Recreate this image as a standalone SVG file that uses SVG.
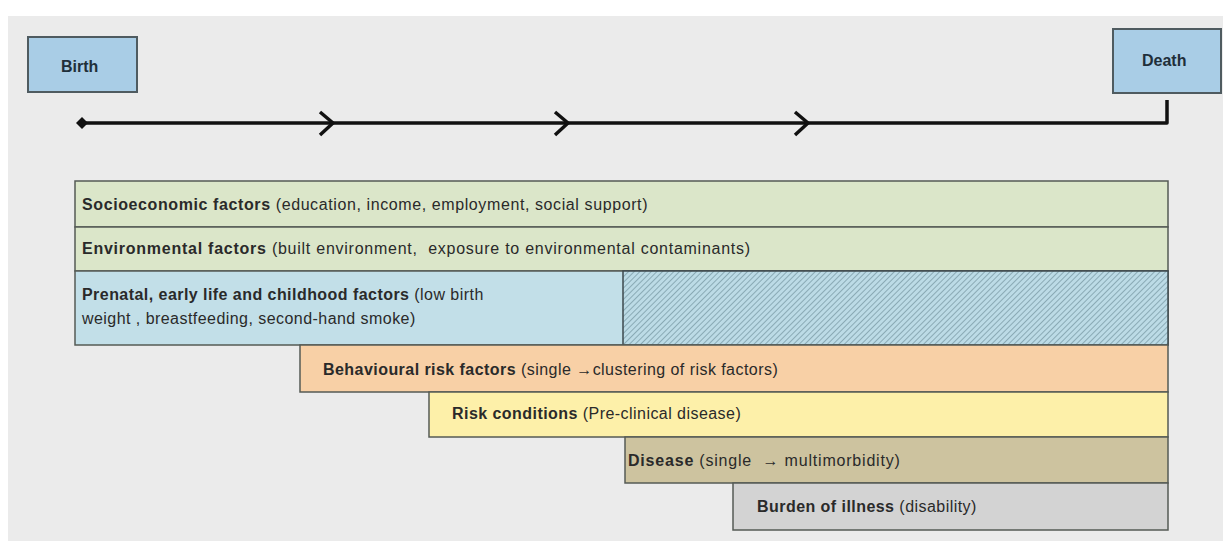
<svg xmlns="http://www.w3.org/2000/svg" width="1223" height="541" viewBox="0 0 1223 541">
<style>
text{font-family:"Liberation Sans",Arial,sans-serif;font-size:16px;letter-spacing:0.45px;fill:#2a2a2a}
.b{font-weight:bold}
.bar{stroke:#555b55;stroke-width:1.5}
.end{fill:#a9cde6;stroke:#4f5b60;stroke-width:2}
.line{fill:none;stroke:#111;stroke-width:3.5;stroke-linejoin:round}
</style>
<defs>
<pattern id="hatch" width="4" height="4" patternUnits="userSpaceOnUse" patternTransform="rotate(45)">
<rect width="4" height="4" fill="#bcdbe6"/>
<line x1="0" y1="0" x2="0" y2="4" stroke="#6f8f9a" stroke-width="1.3"/>
</pattern>
</defs>
<rect x="0" y="0" width="1223" height="541" fill="#ffffff"/>
<rect x="8" y="16" width="1215" height="525" fill="#ebebeb"/>
<g id="connectors">
<path class="line" d="M82 123 H1167 V100"/>
<path d="M82 117 L88 123 L82 129 L76 123 Z" fill="#111"/>
<path class="line" d="M320 112 L333 123 L320 135"/>
<path class="line" d="M555 112 L568 123 L555 135"/>
<path class="line" d="M795 112 L808 123 L795 135"/>
</g>
<g id="birth">
<rect class="end" x="28" y="37" width="109" height="55"/>
<text class="b" x="61" y="72" style="fill:#1f2f3a;letter-spacing:0">Birth</text>
</g>
<g id="death">
<rect class="end" x="1113" y="29" width="108" height="64"/>
<text class="b" x="1142" y="66" style="fill:#1f2f3a;letter-spacing:0">Death</text>
</g>
<g id="socioeconomic">
<rect class="bar" x="75" y="181" width="1093" height="46" fill="#dbe6c9"/>
<text x="82" y="210" style="letter-spacing:0.6px"><tspan class="b">Socioeconomic factors</tspan> (education, income, employment, social support)</text>
</g>
<g id="environmental">
<rect class="bar" x="75" y="227" width="1093" height="44" fill="#dbe6c9"/>
<text x="82" y="254" xml:space="preserve" style="letter-spacing:0.75px"><tspan class="b">Environmental factors</tspan> (built environment,  exposure to environmental contaminants)</text>
</g>
<g id="prenatal">
<rect class="bar" x="75" y="271" width="1093" height="74" fill="#c2dfe8"/>
<rect x="623" y="271" width="545" height="74" fill="url(#hatch)" stroke="#3e4a4e" stroke-width="1.5"/>
<text x="82" y="300"><tspan class="b">Prenatal, early life and childhood factors</tspan> (low birth</text>
<text x="82" y="324">weight , breastfeeding, second-hand smoke)</text>
</g>
<g id="behavioural">
<rect class="bar" x="300" y="345" width="868" height="47" fill="#f8d0a6"/>
<text x="323" y="375"><tspan class="b">Behavioural risk factors</tspan> (single →clustering of risk factors)</text>
</g>
<g id="risk">
<rect class="bar" x="429" y="392" width="739" height="45" fill="#fdf0a9"/>
<text x="452" y="419"><tspan class="b">Risk conditions</tspan> (Pre-clinical disease)</text>
</g>
<g id="disease">
<rect class="bar" x="625" y="437" width="543" height="46" fill="#cdc39f"/>
<text x="628" y="466" xml:space="preserve" style="letter-spacing:0.8px"><tspan class="b">Disease</tspan> (single  → multimorbidity)</text>
</g>
<g id="burden">
<rect class="bar" x="733" y="483" width="435" height="47" fill="#d3d3d3" stroke="#888"/>
<text x="757" y="512"><tspan class="b">Burden of illness</tspan> (disability)</text>
</g>
</svg>
